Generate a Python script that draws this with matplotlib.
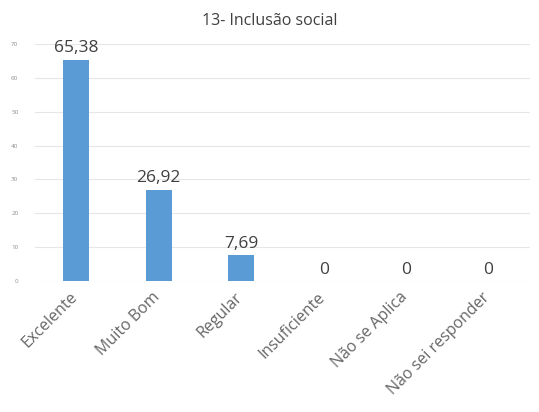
import matplotlib
matplotlib.use("Agg")
import matplotlib.pyplot as plt
import matplotlib.transforms as mtransforms

plt.rcParams['font.family'] = ['Open Sans', 'DejaVu Sans']

categories = ["Excelente", "Muito Bom", "Regular", "Insuficiente", "Não se Aplica", "Não sei responder"]
values = [65.38, 26.92, 7.69, 0, 0, 0]
labels = ["65,38", "26,92", "7,69", "0", "0", "0"]
yticks = [0, 10, 20, 30, 40, 50, 60, 70]

fig = plt.figure(figsize=(5.39, 4.12), dpi=100)
ax = fig.add_axes([0.065, 0.318, 0.918, 0.575])

x = list(range(len(categories)))
ax.bar(x, values, width=0.31, color="#5b9bd5", zorder=3)
for xi, v, lab in zip(x, values, labels):
    ax.text(xi, v + 1.0, lab, ha="center", va="bottom", fontsize=12.5, color="#404040")

ax.set_xlim(-0.5, len(categories) - 0.5)
ax.set_ylim(0, 70)
ax.set_yticks(yticks)
ax.set_yticklabels([str(t) for t in yticks], fontsize=4.5, color="#909090")
ax.set_xticks(x)
ax.set_xticklabels(categories, rotation=45, ha="right", rotation_mode="anchor",
                   fontsize=11.5, color="#666666")
ax.tick_params(axis="x", length=0, pad=6)
ax.tick_params(axis="y", length=0, pad=12)
# nudge category labels a little to the left
offset = mtransforms.ScaledTranslation(-5 / 72, 0, fig.dpi_scale_trans)
for t in ax.get_xticklabels():
    t.set_transform(t.get_transform() + offset)
ax.grid(axis="y", color="#e6e6e6", linewidth=0.8, zorder=0)
for s in ax.spines.values():
    s.set_visible(False)

fig.text(0.5, 0.95, "13- Inclusão social", ha="center", va="center", fontsize=11.5, color="#404040")

fig.savefig("out.png", dpi=100)
